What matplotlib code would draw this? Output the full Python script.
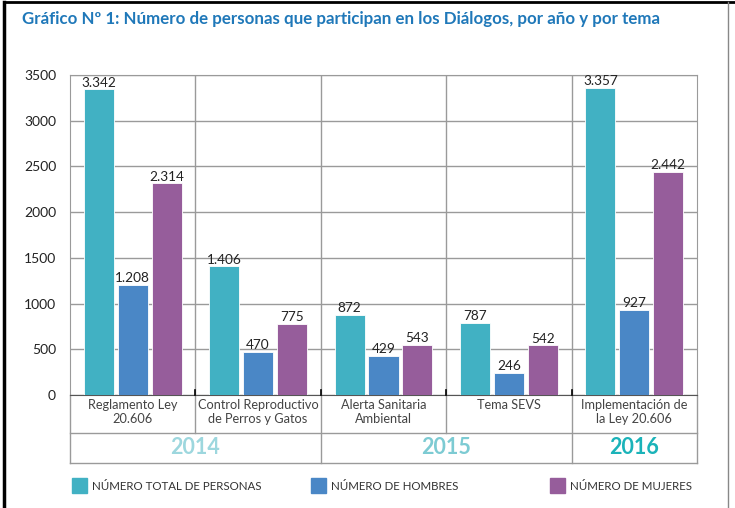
"""Gráfico Nº 1: participantes en los Diálogos por año y tema (barras agrupadas)."""
import numpy as np
import matplotlib; matplotlib.use("Agg")
import matplotlib.pyplot as plt
from matplotlib.patches import Rectangle
from matplotlib.lines import Line2D

temas = ["Reglamento Ley\n20.606", "Control Reproductivo\nde Perros y Gatos",
         "Alerta Sanitaria\nAmbiental", "Tema SEVS", "Implementación de\nla Ley 20.606"]
total = [3342, 1406, 872, 787, 3357]
hombres = [1208, 470, 429, 246, 927]
mujeres = [2314, 775, 543, 542, 2442]
series_names = ["NÚMERO TOTAL DE PERSONAS", "NÚMERO DE HOMBRES", "NÚMERO DE MUJERES"]
anios = ["2014", "2015", "2016"]
anio_span = [(0, 1), (2, 3), (4, 4)]  # first/last tema index per year
yticks = [0, 500, 1000, 1500, 2000, 2500, 3000, 3500]

COLS = ["#41b1c3", "#4a87c6", "#965d9b"]
YEARCOLS = ["#9dd7de", "#7dcbd3", "#1bb3b9"]
BODY = ["Lato", "DejaVu Sans"]
GRID = "#9a9a9a"

plt.rcParams["font.family"] = BODY
fig = plt.figure(figsize=(7.35, 5.08), dpi=100)
W, H = 735, 508
ax = fig.add_axes([70/W, 1-395/H, (697-70)/W, (395-75)/H])

x = np.arange(len(temas)); bw = 0.24; off = 0.27
for i, vals in enumerate([total, hombres, mujeres]):
    b = ax.bar(x + (i-1)*off, vals, bw, color=COLS[i], edgecolor="white", linewidth=0.6, zorder=3)
    for r, v in zip(b, vals):
        ax.text(r.get_x()+r.get_width()/2, v+10, f"{v:,}".replace(",", "."), ha="center", va="bottom",
                fontsize=9.8, color="#222222", zorder=4)

ax.set_xlim(-0.5, len(temas)-0.5); ax.set_ylim(0, 3500)
ax.set_yticks(yticks); ax.set_yticklabels([str(t) for t in yticks], fontsize=10, color="#222222")
ax.tick_params(axis="y", length=0, pad=10); ax.set_xticks([])
ax.grid(axis="y", color=GRID, linewidth=1, zorder=0)
for e in np.arange(0.5, len(temas)-0.5):
    ax.axvline(e, color=GRID, linewidth=1, zorder=0)
    ax.plot([e, e], [0, 0.015], transform=ax.get_xaxis_transform(), color="black", lw=1.2, clip_on=False, zorder=5)
for s in ax.spines.values(): s.set_color(GRID)
ax.spines["bottom"].set_color("#555555")

# table under the axis (x in data, y in axes fraction)
tr = ax.get_xaxis_transform()
r1, r2 = -38/320, -68/320
for i, t in enumerate(temas):
    ax.text(i, -4/320, t, transform=tr, ha="center", va="top", fontsize=9.2, color="#444444", linespacing=1.2)
ax.add_line(Line2D([-0.5, 4.5], [r1, r1], transform=tr, color=GRID, lw=1, clip_on=False))
ax.add_line(Line2D([-0.5, 4.5], [r2, r2], transform=tr, color=GRID, lw=1, clip_on=False))
for e in np.arange(-0.5, len(temas)):
    year_edge = e in (-0.5, 1.5, 3.5, 4.5)
    ax.add_line(Line2D([e, e], [0, r2 if year_edge else r1], transform=tr, color=GRID, lw=1, clip_on=False))
for a, (i0, i1), c in zip(anios, anio_span, YEARCOLS):
    ax.text((i0+i1)/2, (r1+r2)/2, a, transform=tr, ha="center", va="center", fontsize=15.5,
            fontweight="bold", color=c)

# legend
for i, (nm, lx) in enumerate(zip(series_names, [72, 311, 550])):
    fig.patches.append(Rectangle((lx/W, 1-493/H), 15/W, 15/H, transform=fig.transFigure, color=COLS[i]))
    fig.text((lx+20)/W, 1-486/H, nm, ha="left", va="center", fontsize=8.3, color="#333333")

fig.text(22/W, 1-19/H, "Gráfico Nº 1: Número de personas que participan en los Diálogos, por año y por tema",
         ha="left", va="center", fontsize=12.2, fontweight="bold", color="#1f78b9")

# outer frame
fig.add_artist(Line2D([4/W, 4/W], [0, 1-2/H], transform=fig.transFigure, color="black", lw=2.5))
fig.add_artist(Line2D([4/W, 1], [1-1.5/H, 1-1.5/H], transform=fig.transFigure, color="black", lw=2))
fig.add_artist(Line2D([728/W, 728/W], [0, 1-2/H], transform=fig.transFigure, color="#888888", lw=1))

fig.savefig("out.png", dpi=100)
